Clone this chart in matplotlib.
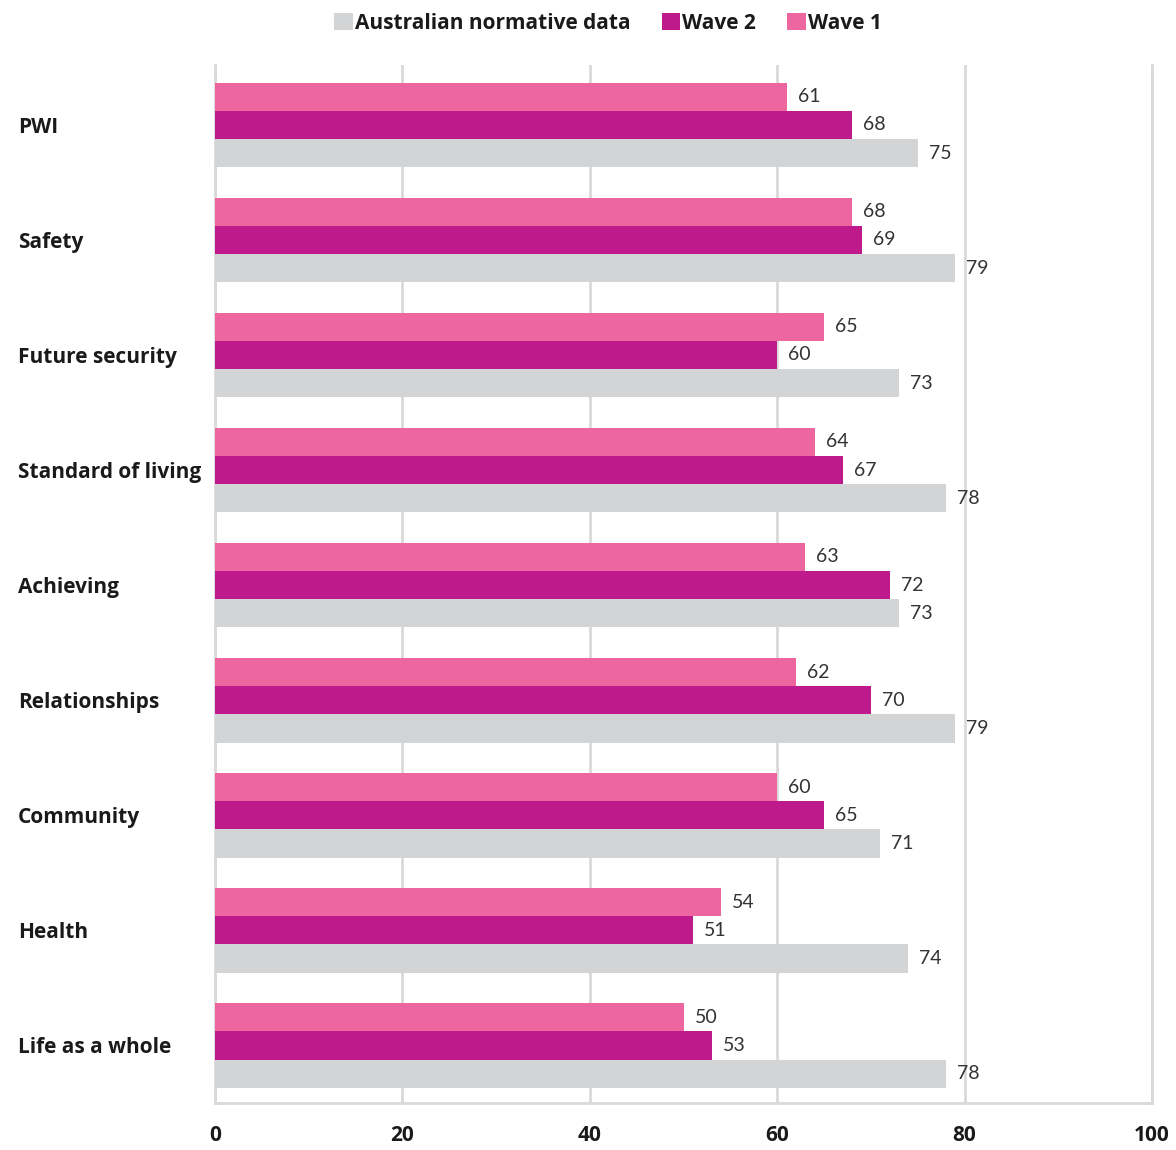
import matplotlib
matplotlib.use("Agg")
import matplotlib.pyplot as plt
import numpy as np

plt.rcParams["font.family"] = ["Lato", "DejaVu Sans"]

categories = ["PWI", "Safety", "Future security", "Standard of living", "Achieving",
              "Relationships", "Community", "Health", "Life as a whole"]
wave1 = [61, 68, 65, 64, 63, 62, 60, 54, 50]
wave2 = [68, 69, 60, 67, 72, 70, 65, 51, 53]
normative = [75, 79, 73, 78, 73, 79, 71, 74, 78]
ticks = [0, 20, 40, 60, 80, 100]

C_W1, C_W2, C_NORM = "#EE66A0", "#BE1A8C", "#D3D4D6"
GRID = "#D9D9D9"
BOLD = {"family": ["Open Sans", "DejaVu Sans"], "weight": "bold", "size": 15}

fig = plt.figure(figsize=(11.76, 11.5), dpi=100)
ax = fig.add_axes([215 / 1176, 1 - 1103 / 1150, (1152 - 215) / 1176, (1103 - 65) / 1150])

y = np.arange(len(categories))
h = 0.245
b1 = ax.barh(y - h, wave1, height=h, color=C_W1, label="Wave 1", zorder=3)
b2 = ax.barh(y, wave2, height=h, color=C_W2, label="Wave 2", zorder=3)
b3 = ax.barh(y + h, normative, height=h, color=C_NORM, label="Australian normative data", zorder=3)

for bars in (b1, b2, b3):
    ax.bar_label(bars, padding=8, fontsize=14, color="#333333")

ax.set_xlim(0, 100)
ax.set_ylim(len(categories) - 0.5, -0.52)
ax.set_xticks(ticks)
ax.set_xticklabels([str(t) for t in ticks], fontdict=BOLD, color="#1a1a1a")
ax.set_yticks(y)
ax.set_yticklabels(categories, fontdict=BOLD, color="#1a1a1a", ha="left")
ax.tick_params(axis="y", length=0, pad=142)
ax.tick_params(axis="x", length=0, pad=16)

ax.grid(axis="x", color=GRID, linewidth=2, zorder=0)
ax.spines["top"].set_visible(False)
for side in ("left", "bottom", "right"):
    ax.spines[side].set_color(GRID)
    ax.spines[side].set_linewidth(2)

handles = [b3, b2, b1]
leg = fig.legend(handles, [hd.get_label() for hd in handles], loc="upper center",
                 bbox_to_anchor=(0.517, 1.005), ncol=3, frameon=False,
                 prop=BOLD, handlelength=0.9, handleheight=0.9,
                 handletextpad=0.1, columnspacing=1.5)
for t in leg.get_texts():
    t.set_color("#1a1a1a")

fig.savefig("out.png", dpi=100)
